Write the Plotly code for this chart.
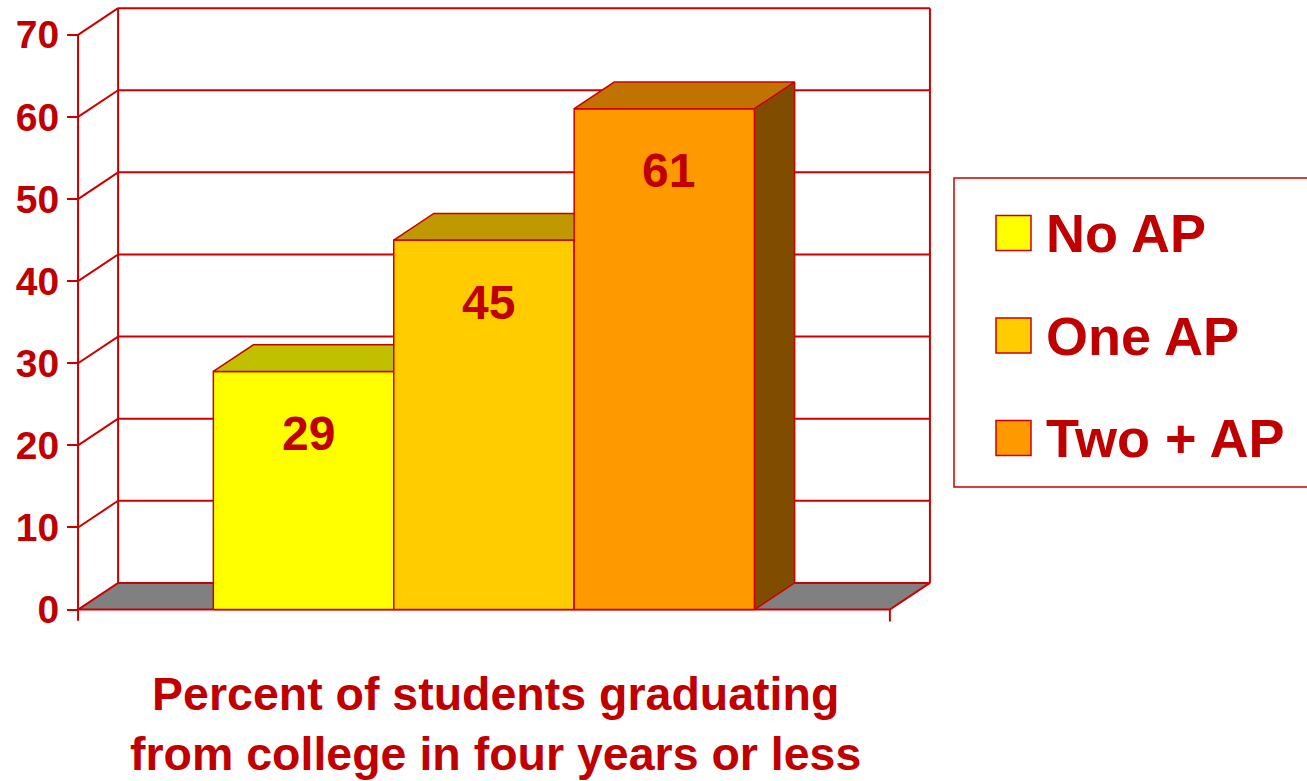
import plotly.graph_objects as go

# ---- data ----
categories = ["No AP", "One AP", "Two + AP"]
values = [29, 45, 61]
tick_values = [0, 10, 20, 30, 40, 50, 60, 70]
tick_labels = ["0", "10", "20", "30", "40", "50", "60", "70"]
x_title = "Percent of students graduating<br>from college in four years or less"

# ---- style ----
front_colors = ["#FFFF00", "#FFCC00", "#FF9900"]
top_colors = ["#C0C000", "#C09900", "#C07300"]
side_colors = ["#808000", "#806600", "#804D00"]
RED_LINE = "#CC0000"
RED_TEXT = "#C00000"
FONT = "Liberation Sans"

W, H = 1307, 781
ML, MR, MT, MB = 60, 363, 2, 155
XR = [-0.1, 4.8]
YR = [-2, 74]
DX, DY = 0.222, 3.25      # 3-D depth offset in axis units
FLOOR_W = 4.5
BAR_W = 1.0
FIRST = 0.75


def px_x(px):
    return (px - ML) / (W - ML - MR)


def px_y(py):
    return (H - MB - py) / (H - MT - MB)


def poly(xs, ys, fill, lw=1.5, name=None):
    return go.Scatter(x=xs + [xs[0]], y=ys + [ys[0]], mode="lines", fill="toself",
                      fillcolor=fill, line=dict(color=RED_LINE, width=lw),
                      hoverinfo="skip", showlegend=False, name=name)


def seg(xs, ys, lw=2):
    return go.Scatter(x=xs, y=ys, mode="lines", line=dict(color=RED_LINE, width=lw),
                      hoverinfo="skip", showlegend=False)


fig = go.Figure()
top = tick_values[-1]

# floor
fig.add_trace(poly([0, FLOOR_W, FLOOR_W + DX, DX], [0, 0, DY, DY], "#808080", lw=2))

# back wall and side wall lines
wx, wy = [], []
for t in tick_values:
    wx += [DX, FLOOR_W + DX, None]
    wy += [t + DY, t + DY, None]
for t in tick_values[1:]:
    wx += [0, DX, None]
    wy += [t, t + DY, None]
wx += [DX, DX, None, FLOOR_W + DX, FLOOR_W + DX, None]
wy += [DY, top + DY, None, DY, top + DY, None]
fig.add_trace(seg(wx, wy, lw=2))

# bars (front, top, side)
annotations = []
for i, (cat, v) in enumerate(zip(categories, values)):
    x0 = FIRST + i * BAR_W
    x1 = x0 + BAR_W
    fig.add_trace(poly([x0, x1, x1, x0], [0, 0, v, v], front_colors[i], name=cat))
    fig.add_trace(poly([x0, x1, x1 + DX, x0 + DX], [v, v, v + DY, v + DY], top_colors[i]))
    fig.add_trace(poly([x1, x1 + DX, x1 + DX, x1], [0, DY, v + DY, v], side_colors[i]))
    annotations.append(dict(x=(x0 + x1) / 2 + 0.025, y=v, yshift=-62, text=str(v),
                            showarrow=False, xanchor="center", yanchor="middle",
                            font=dict(family=FONT, size=48, color=RED_TEXT, weight="bold")))

# front axis line and floor right tick
fig.add_trace(seg([0, 0], [-1.35, top], lw=2))
fig.add_trace(seg([FLOOR_W, FLOOR_W], [0, -1.45], lw=2))

# manual legend
shapes = [dict(type="rect", xref="paper", yref="paper", x0=px_x(954), x1=px_x(1330),
               y0=px_y(487), y1=px_y(178), line=dict(color=RED_LINE, width=1.5),
               fillcolor="rgba(0,0,0,0)")]
for i, cat in enumerate(categories):
    cy = 233 + i * 102.5
    shapes.append(dict(type="rect", xref="paper", yref="paper", x0=px_x(996), x1=px_x(1031),
                       y0=px_y(cy + 17.5), y1=px_y(cy - 17.5), fillcolor=front_colors[i],
                       line=dict(color=RED_LINE, width=1.5)))
    annotations.append(dict(xref="paper", yref="paper", x=px_x(1044), y=px_y(cy), text=cat,
                            showarrow=False, xanchor="left", yanchor="middle",
                            font=dict(family=FONT, size=54, color=RED_TEXT, weight="bold")))

# x title
annotations.append(dict(xref="paper", yref="paper", x=px_x(495), y=px_y(724), text=x_title,
                        showarrow=False, xanchor="center", yanchor="middle",
                        font=dict(family=FONT, size=46.5, color=RED_TEXT, weight="bold")))

fig.update_layout(
    width=W, height=H,
    margin=dict(l=ML, r=MR, t=MT, b=MB, pad=0),
    paper_bgcolor="white", plot_bgcolor="white",
    showlegend=False,
    xaxis=dict(range=XR, visible=False, fixedrange=True),
    yaxis=dict(range=YR, tickvals=tick_values, ticktext=tick_labels, ticks="outside",
               ticklen=11, tickwidth=2, tickcolor=RED_LINE, showgrid=False, zeroline=False,
               showline=False, anchor="free", position=(0 - XR[0]) / (XR[1] - XR[0]),
               ticklabelstandoff=0,
               tickfont=dict(family=FONT, size=39, color=RED_TEXT, weight="bold"),
               fixedrange=True),
    shapes=shapes,
    annotations=annotations,
)

fig.write_html("out.html", config={"displayModeBar": False},
               post_script="document.body.style.margin='0px';document.body.style.overflow='hidden';")
